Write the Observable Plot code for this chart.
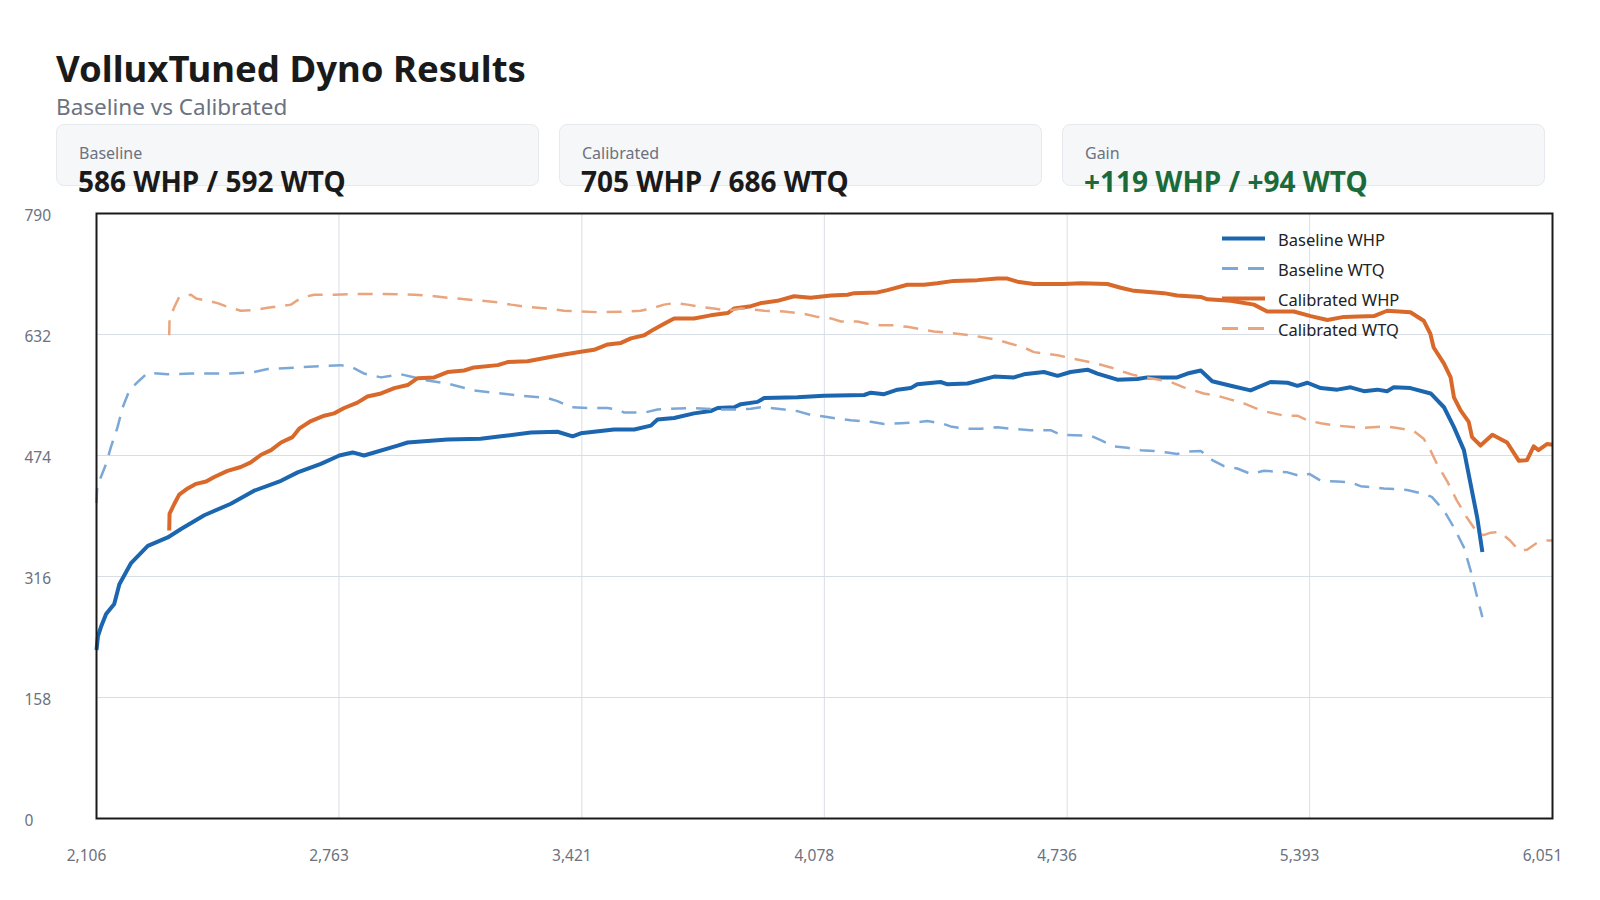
<!DOCTYPE html>
<html>
<head>
<meta charset="utf-8">
<script src="https://cdn.jsdelivr.net/npm/d3@7"></script>
<script src="https://cdn.jsdelivr.net/npm/@observablehq/plot@0.6"></script>
<style>
  html, body { margin: 0; padding: 0; background: #ffffff; }
  body { font-family: "Noto Sans", "Open Sans", sans-serif; }
  #wrap { position: relative; width: 1600px; height: 900px; overflow: hidden; }
  .abs { position: absolute; white-space: nowrap; line-height: 1; }
  #title { left: 56px; top: 50px; font-size: 36.5px; font-weight: 700; color: #1a1a1a; }
  #subtitle { left: 56px; top: 95.5px; font-size: 22.5px; color: #6b7280; }
  .card { position: absolute; top: 124px; width: 483px; height: 62px; box-sizing: border-box;
          background: #f6f7f9; border: 1px solid #e6e9ee; border-radius: 8px; }
  .card .lab { position: absolute; left: 22px; top: 20px; font-size: 16px; color: #6b7280; line-height: 1; white-space: nowrap; }
  .card .val { position: absolute; left: 21px; top: 42px; font-size: 28px; font-weight: 700; color: #1a1a1a; line-height: 1; white-space: nowrap; }
  .card .val.gain { color: #1b6b3a; }
  #chart { position: absolute; left: 0; top: 200px; }
  #legend { position: absolute; left: 1220px; top: 223px; }
  .lg { position: absolute; left: 0; height: 30px; width: 200px; }
  .lg svg { position: absolute; left: 0; top: 0; }
  .lg span { position: absolute; left: 58px; font-size: 16.5px; color: #222; line-height: 1; white-space: nowrap; }
</style>
</head>
<body>
<div id="wrap">
  <div id="title" class="abs">VolluxTuned Dyno Results</div>
  <div id="subtitle" class="abs">Baseline vs Calibrated</div>
  <div id="cards"></div>
  <div id="chart"></div>
  <div id="legend"></div>
</div>
<script>
// ---- Data ----
const xTicks = [2106, 2763, 3421, 4078, 4736, 5393, 6051];
const yTicks = [0, 158, 316, 474, 632, 790];

const cardLabels = ["Baseline", "Calibrated", "Gain"];
const cardValues = ["586 WHP / 592 WTQ", "705 WHP / 686 WTQ", "+119 WHP / +94 WTQ"];

const seriesNames = ["Baseline WHP", "Baseline WTQ", "Calibrated WHP", "Calibrated WTQ"];

const baseWhpRpm = [2106,2110,2118,2132,2154,2168,2199,2245,2299,2335,2398,2470,2533,2606,2651,2714,2764,2800,2831,2922,2949,3003,3057,3147,3202,3283,3355,3396,3418,3508,3563,3608,3626,3671,3725,3770,3789,3834,3852,3897,3915,4005,4077,4186,4204,4240,4276,4312,4330,4393,4412,4466,4538,4592,4619,4673,4710,4745,4791,4818,4872,4926,4953,5034,5062,5098,5129,5179,5233,5287,5333,5360,5387,5423,5468,5504,5540,5576,5603,5621,5666,5721,5757,5784,5811,5829,5847,5861];
const baseWhp = [220,238,250,267,280,306,333,356,367,378,396,411,428,441,452,463,474,478,474,487,491,493,495,496,499,504,505,499,503,508,508,513,521,523,529,532,536,537,541,544,549,550,552,553,556,554,560,562,567,570,567,568,577,576,580,583,578,583,586,581,573,574,576,576,581,585,571,565,559,570,569,565,569,562,560,563,558,560,558,563,562,555,537,511,481,437,393,348];

const baseWtqRpm = [2106,2108,2118,2132,2145,2163,2177,2195,2222,2245,2299,2362,2470,2533,2570,2651,2768,2800,2831,2877,2931,3003,3057,3129,3183,3256,3328,3355,3391,3445,3491,3518,3536,3590,3626,3662,3725,3789,3834,3879,3906,3933,3969,4005,4041,4077,4114,4150,4204,4240,4285,4321,4357,4402,4420,4456,4502,4547,4583,4637,4691,4718,4799,4827,4863,4899,4935,4971,5007,5034,5062,5098,5129,5161,5197,5233,5269,5333,5369,5392,5423,5468,5504,5531,5594,5657,5702,5724,5757,5784,5811,5829,5847,5861];
const baseWtq = [412,435,446,463,485,511,537,559,572,582,580,581,581,583,587,589,592,589,581,576,580,572,568,559,556,552,549,545,537,536,536,534,530,530,534,535,536,534,534,535,537,536,534,532,527,525,522,520,518,515,516,517,519,515,512,509,509,511,509,507,507,501,500,494,486,484,481,480,478,476,479,480,468,460,457,450,454,452,447,450,441,440,439,434,431,429,424,420,402,380,354,324,289,263];

const calWhpRpm = [2303,2304,2317,2330,2353,2376,2403,2425,2461,2497,2524,2552,2579,2606,2637,2655,2687,2723,2750,2777,2813,2840,2877,2913,2949,2976,3021,3057,3102,3129,3193,3220,3274,3328,3373,3427,3454,3491,3527,3554,3590,3617,3644,3671,3725,3770,3816,3834,3879,3906,3951,3996,4041,4096,4141,4159,4222,4249,4303,4348,4384,4429,4493,4547,4574,4601,4646,4691,4727,4773,4845,4881,4917,4998,5034,5098,5116,5179,5242,5278,5350,5396,5441,5486,5567,5603,5666,5702,5720,5729,5757,5775,5784,5802,5824,5833,5856,5888,5928,5960,5982,6000,6013,6036,6051];
const calWhp = [376,398,411,423,431,437,440,446,454,459,465,475,481,491,498,509,519,526,529,536,543,551,555,562,566,575,576,583,585,589,592,596,597,602,606,610,612,619,621,627,631,639,646,653,653,657,660,666,669,673,676,682,680,683,684,686,687,690,697,697,699,702,703,705,705,701,698,698,698,699,698,693,689,686,683,681,678,676,671,662,662,656,651,655,656,663,661,650,633,615,594,576,550,533,518,498,487,501,491,467,468,486,481,489,488];

const calWtqRpm = [2303,2304,2317,2330,2362,2376,2398,2434,2461,2497,2533,2570,2606,2633,2660,2696,2750,2804,2877,2967,3003,3057,3129,3193,3229,3274,3328,3373,3472,3544,3580,3608,3644,3671,3707,3742,3779,3816,3852,3915,3969,4023,4059,4096,4123,4168,4195,4231,4267,4303,4339,4375,4420,4475,4511,4547,4583,4619,4646,4673,4710,4755,4809,4854,4890,4917,4962,5016,5052,5106,5143,5179,5215,5251,5278,5324,5360,5387,5423,5468,5540,5594,5630,5675,5702,5720,5738,5765,5792,5819,5846,5864,5882,5909,5936,5960,5982,6009,6036,6051];
const calWtq = [631,653,668,681,684,679,677,673,668,663,664,667,669,671,680,684,684,685,685,684,683,680,677,674,671,668,666,663,661,662,663,666,671,673,671,668,666,663,666,663,662,659,655,653,649,649,646,644,644,642,639,636,634,631,628,625,620,615,609,607,605,600,595,589,583,579,575,570,563,555,552,547,542,535,531,526,526,520,516,513,510,512,510,506,496,481,463,441,415,393,374,370,373,374,363,350,351,360,363,363];

// ---- Styles ----
const colors = ["#1c66b0", "#7ca8d7", "#d9692a", "#e9a57e"];
const widths = [4, 2.5, 4, 2.5];
const dashes = [null, "15,10", null, "15,10"];

// ---- Header cards ----
const cardsEl = document.getElementById("cards");
cardLabels.forEach((lab, i) => {
  const c = document.createElement("div");
  c.className = "card";
  c.style.left = (56 + i * 503) + "px";
  c.innerHTML = `<div class="lab">${lab}</div><div class="val${i === 2 ? " gain" : ""}">${cardValues[i]}</div>`;
  cardsEl.appendChild(c);
});

// ---- Chart ----
const toRows = (rpm, vals) => rpm.map((r, i) => ({rpm: r, v: vals[i]}));
const series = [
  toRows(baseWhpRpm, baseWhp),
  toRows(baseWtqRpm, baseWtq),
  toRows(calWhpRpm, calWhp),
  toRows(calWtqRpm, calWtq)
];

const fmt = d3.format(",");

const chart = Plot.plot({
  width: 1600,
  height: 700,
  marginTop: 13,
  marginBottom: 82,
  marginLeft: 96,
  marginRight: 48,
  style: {fontFamily: "'Noto Sans', 'Open Sans', sans-serif", background: "transparent"},
  x: {domain: [2106, 6051], axis: null},
  y: {domain: [0, 790], axis: null},
  marks: [
    Plot.gridX(xTicks, {stroke: "#d9dee6", strokeOpacity: 1, strokeWidth: 1}),
    Plot.gridY(yTicks, {stroke: "#d9dee6", strokeOpacity: 1, strokeWidth: 1}),
    ...series.map((rows, i) => Plot.line(rows, {
      x: "rpm", y: "v",
      stroke: colors[i], strokeWidth: widths[i],
      strokeDasharray: dashes[i] || undefined,
      strokeLinejoin: "round", strokeLinecap: "butt"
    })),
    Plot.frame({stroke: "#1a1a1a", strokeWidth: 2}),
    Plot.text(xTicks, {x: d => d, frameAnchor: "bottom", dy: 38, dx: -10, text: d => fmt(d),
      fill: "#6b7280", fontSize: 15.5, lineAnchor: "middle", textAnchor: "middle"}),
    Plot.text(yTicks, {y: d => d, frameAnchor: "left", dx: -72, dy: 3, text: d => String(d),
      fill: "#6b7280", fontSize: 15.5, lineAnchor: "middle", textAnchor: "start"})
  ]
});
document.getElementById("chart").appendChild(chart);

// ---- Legend ----
const legendEl = document.getElementById("legend");
seriesNames.forEach((name, i) => {
  const row = document.createElement("div");
  row.className = "lg";
  row.style.top = (i * 30) + "px";
  const dash = dashes[i] ? `stroke-dasharray="16,10"` : "";
  row.innerHTML = `<svg width="50" height="30"><line x1="2" x2="45" y1="15.5" y2="15.5" stroke="${colors[i]}" stroke-width="${i % 2 === 0 ? 4 : 3}" ${dash}/></svg><span style="top:8.5px">${name}</span>`;
  legendEl.appendChild(row);
});
</script>
</body>
</html>
